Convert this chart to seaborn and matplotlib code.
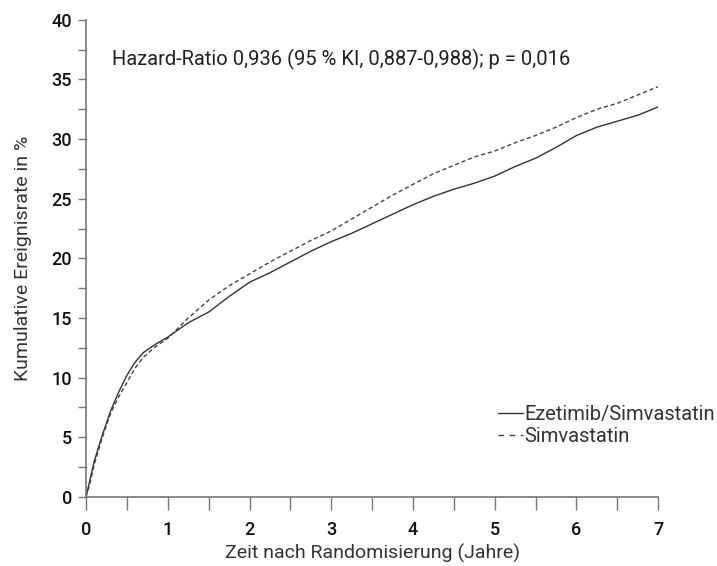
import numpy as np
import pandas as pd
import matplotlib.pyplot as plt
import seaborn as sns

years = [0, 0.05, 0.1, 0.2, 0.3, 0.4, 0.5, 0.6, 0.7, 0.85, 1.0, 1.25, 1.5, 1.75, 2.0, 2.25, 2.5, 2.75, 3.0,
         3.25, 3.5, 3.75, 4.0, 4.25, 4.5, 4.75, 5.0, 5.25, 5.5, 5.75, 6.0, 6.25, 6.5, 6.75, 7.0]
ezetimib = [0, 1.5, 3.0, 5.2, 7.2, 8.8, 10.2, 11.3, 12.1, 12.8, 13.4, 14.6, 15.5, 16.8, 18.0, 18.8, 19.7,
            20.6, 21.4, 22.1, 22.9, 23.7, 24.5, 25.2, 25.8, 26.3, 26.9, 27.7, 28.4, 29.3, 30.3, 31.0, 31.5, 32.0, 32.7]
simva = [0, 1.2, 2.7, 5.0, 7.0, 8.4, 9.6, 10.8, 11.7, 12.6, 13.3, 15.0, 16.5, 17.7, 18.7, 19.7, 20.6,
         21.5, 22.3, 23.3, 24.3, 25.3, 26.2, 27.1, 27.8, 28.5, 29.0, 29.7, 30.3, 31.0, 31.8, 32.5, 33.0, 33.7, 34.4]

df = pd.concat([
    pd.DataFrame({"Jahre": years, "Rate": ezetimib, "Gruppe": "Ezetimib/Simvastatin"}),
    pd.DataFrame({"Jahre": years, "Rate": simva, "Gruppe": "Simvastatin"}),
])

sns.set_style("ticks")
plt.rcParams["font.family"] = ["Roboto", "DejaVu Sans"]

fig = plt.figure(figsize=(7.17, 5.66), dpi=100)
ax = fig.add_axes([0.12, 0.122, 0.798, 0.843])
sns.lineplot(data=df, x="Jahre", y="Rate", hue="Gruppe", style="Gruppe",
             palette=["#333333", "#444444"], dashes=[(None, None), (3, 2)],
             linewidth=1.0, estimator=None, ax=ax)

ax.set_xlim(0, 7)
ax.set_ylim(0, 40)
ax.set_xticks(range(0, 8))
ax.set_xticks(np.arange(0, 7.01, 0.5), minor=True)
ax.set_yticks(range(0, 41, 5))
ax.set_yticks(np.arange(0, 40.1, 2.5), minor=True)
sns.despine(ax=ax)
for s in ["left", "bottom"]:
    ax.spines[s].set_color("#777777")
    ax.spines[s].set_linewidth(1.2)
ax.tick_params(which="both", color="#777777", width=1.0)
ax.tick_params(axis="x", which="both", length=9, pad=8)
ax.tick_params(axis="y", which="both", length=6, pad=4)
for t in ax.get_xticklabels() + ax.get_yticklabels():
    t.set_fontsize(13)
    t.set_fontweight("medium")
    t.set_color("#111111")

ax.set_xlabel("Zeit nach Randomisierung (Jahre)", fontsize=14, color="#333333", labelpad=4)
ax.set_ylabel("Kumulative Ereignisrate in %", fontsize=14, color="#333333", labelpad=14)

ax.text(0.32, 36.7, "Hazard-Ratio 0,936 (95 % KI, 0,887-0,988); p = 0,016",
        fontsize=14.5, color="#222222", va="center")

leg = ax.legend(loc="center left", bbox_to_anchor=(0.72, 0.15), frameon=False,
                prop={"size": 14.5}, handlelength=1.25, borderpad=0, borderaxespad=0,
                handletextpad=0.05, labelspacing=0.12)
for t in leg.get_texts():
    t.set_color("#333333")
leg.get_lines()[1].set_dashes([4, 4])

fig.savefig("out.png", dpi=100)
